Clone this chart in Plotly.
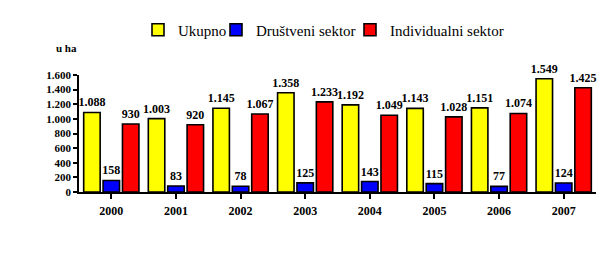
import plotly.graph_objects as go

years = ["2000", "2001", "2002", "2003", "2004", "2005", "2006", "2007"]
ukupno = [1088, 1003, 1145, 1358, 1192, 1143, 1151, 1549]
drustveni = [158, 83, 78, 125, 143, 115, 77, 124]
individualni = [930, 920, 1067, 1233, 1049, 1028, 1074, 1425]
series_names = ["Ukupno", "Društveni sektor", "Individualni sektor"]
colors = ["#FFFF00", "#0000FF", "#FF0000"]
y_ticks = [0, 200, 400, 600, 800, 1000, 1200, 1400, 1600]


def fmt(v):
    return f"{v:,}".replace(",", ".")


FONT = "Liberation Serif"
PL, PR, PT, PB = 79, 6, 75, 65
W, H = 602, 257
pw, ph = W - PL - PR, H - PT - PB


def px_x(x):
    return (x - PL) / pw


def px_y(y):
    return (H - PB - y) / ph


legend_keys = ["legend", "legend2", "legend3"]
legend_left = [138, 216, 350]

fig = go.Figure()
for name, vals, col, lk in zip(series_names, [ukupno, drustveni, individualni], colors, legend_keys):
    fig.add_trace(go.Bar(
        x=years, y=vals, name=name, legend=lk,
        marker=dict(color=col, line=dict(color="black", width=1.6)),
        text=["<b>" + fmt(v) + "</b>" for v in vals], textposition="outside",
        textfont=dict(family=FONT, size=12, color="black"),
        constraintext="none", cliponaxis=False,
    ))

legends = {}
for lk, lx in zip(legend_keys, legend_left):
    legends[lk] = dict(orientation="h", x=px_x(lx), y=px_y(30), xanchor="left", yanchor="middle",
                       font=dict(family=FONT, size=15, color="black"),
                       itemwidth=30, bgcolor="rgba(0,0,0,0)", borderwidth=0)

fig.update_layout(
    template="none",
    width=W, height=H,
    margin=dict(l=PL, r=PR, t=PT, b=PB),
    paper_bgcolor="white", plot_bgcolor="white",
    font=dict(family=FONT, size=12, color="black"),
    barmode="group", bargap=0.1, bargroupgap=0.15,
    showlegend=True,
    annotations=[dict(text="<b>u ha</b>", x=px_x(66), y=px_y(48), xref="paper", yref="paper",
                      xanchor="center", yanchor="middle",
                      showarrow=False, font=dict(family=FONT, size=11, color="black"))],
    **legends,
)
fig.update_yaxes(range=[0, 1600], tickvals=y_ticks, ticktext=["<b>" + fmt(v) + "</b>" for v in y_ticks],
                 showline=True, linecolor="black", linewidth=1.5, ticks="outside",
                 ticklen=4, tickwidth=1.5, tickcolor="black", showgrid=False, zeroline=False,
                 tickfont=dict(family=FONT, size=11, color="black"))
fig.update_xaxes(showline=True, linecolor="black", linewidth=1.5, ticks="outside",
                 tickson="boundaries", ticklen=5, tickwidth=1.5, tickcolor="black",
                 showgrid=False, tickvals=years, ticktext=["<b>" + y + "</b>" for y in years],
                 ticklabelstandoff=2,
                 tickfont=dict(family=FONT, size=12, color="black"))

fig.write_html("out.html")
